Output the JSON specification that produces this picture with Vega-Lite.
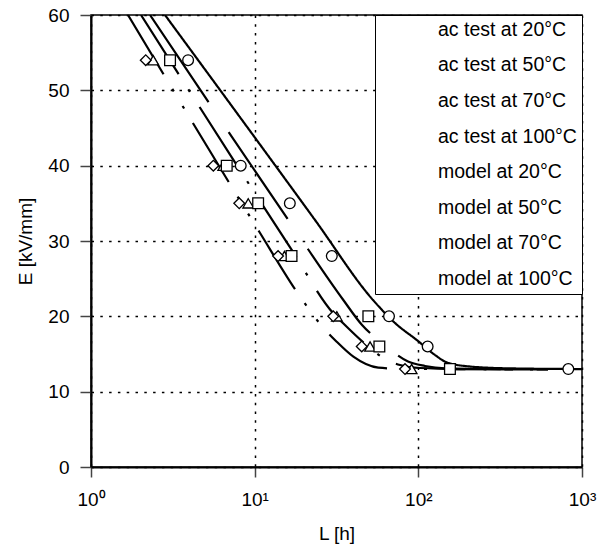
{
  "$schema": "https://vega.github.io/schema/vega-lite/v6.json",
  "width": 491,
  "height": 452,
  "autosize": "none",
  "padding": {"left": 91, "top": 15, "right": 28, "bottom": 82},
  "config": {
    "font": "Liberation Sans",
    "view": {"stroke": "black", "strokeWidth": 1.5},
    "axis": {
      "grid": true,
      "gridColor": "black",
      "gridDash": [2.5, 6.3],
      "gridWidth": 1.5,
      "gridOpacity": 1,
      "tickColor": "#444",
      "tickWidth": 1.5,
      "domainColor": "black",
      "domainWidth": 2,
      "labelFontSize": 19,
      "labelColor": "black",
      "labelFlush": false,
      "labelOverlap": false,
      "titleFontSize": 19,
      "titleFontWeight": "normal",
      "titleColor": "black"
    }
  },
  "datasets": {
    "tests": [
      {"series": "ac test at 70°C", "L": 2.40, "E": 54},
      {"series": "ac test at 70°C", "L": 6.43, "E": 40},
      {"series": "ac test at 70°C", "L": 9.14, "E": 35},
      {"series": "ac test at 70°C", "L": 15.2, "E": 28},
      {"series": "ac test at 70°C", "L": 31.8, "E": 20},
      {"series": "ac test at 70°C", "L": 50.7, "E": 16},
      {"series": "ac test at 70°C", "L": 91, "E": 13},
      {"series": "ac test at 20°C", "L": 3.92, "E": 54},
      {"series": "ac test at 20°C", "L": 8.22, "E": 40},
      {"series": "ac test at 20°C", "L": 16.4, "E": 35},
      {"series": "ac test at 20°C", "L": 29.6, "E": 28},
      {"series": "ac test at 20°C", "L": 66.2, "E": 20},
      {"series": "ac test at 20°C", "L": 114, "E": 16},
      {"series": "ac test at 20°C", "L": 825, "E": 13},
      {"series": "ac test at 50°C", "L": 3.04, "E": 54},
      {"series": "ac test at 50°C", "L": 6.75, "E": 40},
      {"series": "ac test at 50°C", "L": 10.5, "E": 35},
      {"series": "ac test at 50°C", "L": 16.8, "E": 28},
      {"series": "ac test at 50°C", "L": 49.5, "E": 20},
      {"series": "ac test at 50°C", "L": 57.8, "E": 16},
      {"series": "ac test at 50°C", "L": 156, "E": 13},
      {"series": "ac test at 100°C", "L": 2.16, "E": 54},
      {"series": "ac test at 100°C", "L": 5.59, "E": 40},
      {"series": "ac test at 100°C", "L": 8.05, "E": 35},
      {"series": "ac test at 100°C", "L": 13.9, "E": 28},
      {"series": "ac test at 100°C", "L": 30.2, "E": 20},
      {"series": "ac test at 100°C", "L": 45.1, "E": 16},
      {"series": "ac test at 100°C", "L": 82.9, "E": 13}
    ],
    "models": [
      {"model": "model at 20°C", "L": 2.832, "E": 60},
      {"model": "model at 20°C", "L": 23.37, "E": 32.79},
      {"model": "model at 20°C", "L": 52.84, "E": 22.17},
      {"model": "model at 20°C", "L": 72.0, "E": 19.12},
      {"model": "model at 20°C", "L": 99.5, "E": 16.73},
      {"model": "model at 20°C", "L": 126.4, "E": 14.87},
      {"model": "model at 20°C", "L": 149.7, "E": 13.87},
      {"model": "model at 20°C", "L": 206.8, "E": 13.34},
      {"model": "model at 20°C", "L": 348, "E": 13.10},
      {"model": "model at 20°C", "L": 1000, "E": 13.0},
      {"model": "model at 50°C", "L": 2.294, "E": 60},
      {"model": "model at 50°C", "L": 16.05, "E": 32.79},
      {"model": "model at 50°C", "L": 34.8, "E": 22.17},
      {"model": "model at 50°C", "L": 45.3, "E": 18.85},
      {"model": "model at 50°C", "L": 56.7, "E": 16.86},
      {"model": "model at 50°C", "L": 70.0, "E": 15.27},
      {"model": "model at 50°C", "L": 86.5, "E": 14.0},
      {"model": "model at 50°C", "L": 109.8, "E": 13.41},
      {"model": "model at 50°C", "L": 145.5, "E": 13.10},
      {"model": "model at 50°C", "L": 315.4, "E": 13.0},
      {"model": "model at 50°C", "L": 619.7, "E": 12.94},
      {"model": "model at 70°C", "L": 2.021, "E": 60},
      {"model": "model at 70°C", "L": 16.84, "E": 28.81},
      {"model": "model at 70°C", "L": 30.22, "E": 20.40},
      {"model": "model at 70°C", "L": 35.6, "E": 18.85},
      {"model": "model at 70°C", "L": 45.9, "E": 16.59},
      {"model": "model at 70°C", "L": 62.6, "E": 14.34},
      {"model": "model at 70°C", "L": 77.3, "E": 13.54},
      {"model": "model at 70°C", "L": 102.4, "E": 13.14},
      {"model": "model at 70°C", "L": 179.7, "E": 13.0},
      {"model": "model at 70°C", "L": 619.7, "E": 12.94},
      {"model": "model at 100°C", "L": 1.683, "E": 60},
      {"model": "model at 100°C", "L": 10.67, "E": 31.23},
      {"model": "model at 100°C", "L": 18.06, "E": 23.27},
      {"model": "model at 100°C", "L": 21.26, "E": 21.07},
      {"model": "model at 100°C", "L": 25.7, "E": 18.72},
      {"model": "model at 100°C", "L": 31.7, "E": 16.63},
      {"model": "model at 100°C", "L": 40.1, "E": 14.64},
      {"model": "model at 100°C", "L": 56.9, "E": 13.18},
      {"model": "model at 100°C", "L": 75.4, "E": 13.05},
      {"model": "model at 100°C", "L": 619.7, "E": 12.94}
    ]
  },
  "layer": [
    {
      "data": {"name": "models"},
      "mark": {"type": "line", "color": "black", "strokeWidth": 2.2, "interpolate": "monotone", "clip": true},
      "encoding": {
        "x": {
          "field": "L", "type": "quantitative",
          "scale": {"type": "log", "domain": [1, 1000], "nice": false},
          "axis": {
            "values": [1, 10, 100, 1000],
            "labelExpr": "'10' + ['⁰','¹','²','³'][round(log(datum.value)/LN10)]",
            "title": "L [h]",
            "tickSize": 10,
            "labelPadding": 13,
            "titlePadding": 15
          }
        },
        "y": {
          "field": "E", "type": "quantitative",
          "scale": {"domain": [0, 60], "nice": false},
          "axis": {
            "values": [0, 10, 20, 30, 40, 50, 60],
            "title": "E [kV/mm]",
            "tickSize": 11,
            "labelPadding": 11,
            "titlePadding": 12
          }
        },
        "strokeDash": {
          "field": "model", "type": "nominal",
          "scale": {
            "domain": ["model at 20°C", "model at 50°C", "model at 70°C", "model at 100°C"],
            "range": [[1, 0], [105, 36], [70, 18, 3, 18], [69, 17, 3, 17, 3, 17]]
          },
          "legend": null
        }
      }
    },
    {
      "data": {"name": "tests"},
      "mark": {"type": "point", "filled": false, "fill": "white", "stroke": "black", "strokeWidth": 1.3, "size": 115, "opacity": 1},
      "encoding": {
        "x": {"field": "L", "type": "quantitative"},
        "y": {"field": "E", "type": "quantitative"},
        "shape": {
          "field": "series", "type": "nominal",
          "scale": {
            "domain": ["ac test at 20°C", "ac test at 50°C", "ac test at 70°C", "ac test at 100°C", "model at 20°C", "model at 50°C", "model at 70°C", "model at 100°C"],
            "range": [
              "circle", "square", "triangle-up", "diamond",
              "M-4.58,0H4.58",
              "M-4.58,0H-0.38M0.76,0H4.58",
              "M-4.58,0H1.33M2.48,0H3.05M3.81,0H4.58",
              "M-4.58,0H1.33M2.67,0H3.05M4.2,0H4.58"
            ]
          },
          "legend": {
            "title": null,
            "orient": "top-right",
            "offset": 0,
            "padding": 5,
            "fillColor": "white",
            "strokeColor": "black",
            "rowPadding": 14.6,
            "symbolSize": 110,
            "symbolOffset": 14.25,
            "labelOffset": 24.25,
            "labelFontSize": 19.5,
            "labelColor": "black",
            "labelLimit": 250,
            "symbolStrokeColor": "black",
            "symbolFillColor": "white",
            "symbolStrokeWidth": 1.4,
            "symbolOpacity": 1
          }
        }
      }
    }
  ]
}
